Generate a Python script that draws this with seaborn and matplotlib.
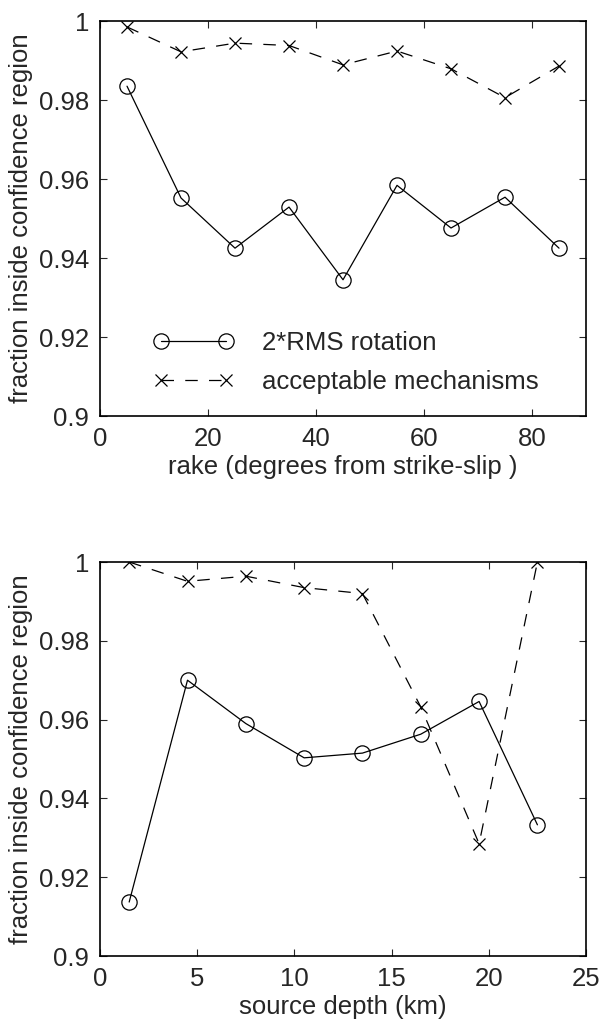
import numpy as np
import pandas as pd
import matplotlib
matplotlib.use('Agg')
import matplotlib.pyplot as plt
import seaborn as sns
from matplotlib.ticker import FuncFormatter

# top panel: rake
rake = [5, 15, 25, 35, 45, 55, 65, 75, 85]
rake_rms = [0.9835, 0.9552, 0.9425, 0.9529, 0.9345, 0.9584, 0.9476, 0.9554, 0.9425]
rake_acc = [0.9985, 0.9922, 0.9944, 0.9938, 0.9889, 0.9924, 0.9879, 0.9806, 0.9886]

# bottom panel: source depth
depth = [1.5, 4.5, 7.5, 10.5, 13.5, 16.5, 19.5, 22.5]
depth_rms = [0.9137, 0.9700, 0.9590, 0.9503, 0.9515, 0.9563, 0.9646, 0.9333]
depth_acc = [1.0, 0.9951, 0.9964, 0.9935, 0.9920, 0.9632, 0.9285, 1.0]

yticks = [0.9, 0.92, 0.94, 0.96, 0.98, 1.0]
ylabel = 'fraction inside confidence region'
lbl_rms = '2*RMS rotation'
lbl_acc = 'acceptable mechanisms'

sns.set_style('ticks')
plt.rcParams['font.family'] = ['Liberation Sans', 'DejaVu Sans']
FS = 18.5

fig = plt.figure(figsize=(6, 10.25), dpi=100)
ax1 = fig.add_axes([0.1667, 0.5941, 0.81, 0.3854])
ax2 = fig.add_axes([0.1667, 0.0673, 0.81, 0.3844])

def draw(ax, x, rms, acc):
    df = pd.DataFrame({'x': x, 'rms': rms, 'acc': acc})
    sns.lineplot(data=df, x='x', y='rms', ax=ax, color='black', lw=0.9,
                 marker='o', markersize=11, fillstyle='none', markeredgewidth=0.9,
                 markeredgecolor='black', label=lbl_rms)
    sns.lineplot(data=df, x='x', y='acc', ax=ax, color='black', lw=0.9,
                 linestyle=(0, (10, 9)), marker='x', markersize=8.5,
                 markeredgewidth=0.9, markeredgecolor='black', label=lbl_acc)
    ax.set_ylim(0.9, 1.0)
    ax.set_yticks(yticks)
    ax.yaxis.set_major_formatter(FuncFormatter(lambda v, p: '%g' % round(v, 2)))
    ax.set_ylabel(ylabel, fontsize=FS, labelpad=4)
    ax.tick_params(direction='in', top=True, right=True, length=5, width=0.8,
                   labelsize=FS, pad=8)
    for s in ax.spines.values():
        s.set_linewidth(1.2)
        s.set_color('black')

draw(ax1, rake, rake_rms, rake_acc)
ax1.set_xlim(0, 90)
ax1.set_xticks([0, 20, 40, 60, 80])
ax1.set_xlabel('rake (degrees from strike-slip )', fontsize=FS, labelpad=3)
ax1.legend(loc='lower left', bbox_to_anchor=(0.088, 0.03), frameon=False,
           numpoints=2, handlelength=3.15, handletextpad=1.1, labelspacing=0.6,
           borderaxespad=0, fontsize=FS)

draw(ax2, depth, depth_rms, depth_acc)
ax2.set_xlim(0, 25)
ax2.set_xticks([0, 5, 10, 15, 20, 25])
ax2.set_xlabel('source depth (km)', fontsize=FS, labelpad=3)
ax2.get_legend().remove()

fig.savefig('out.png', dpi=100, facecolor='white')
